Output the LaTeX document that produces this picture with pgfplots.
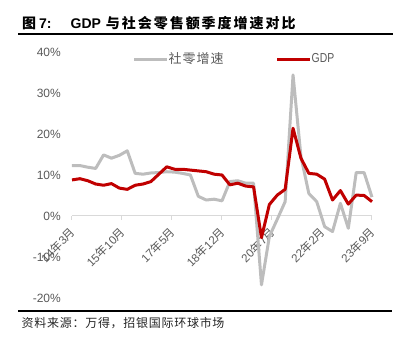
\documentclass[border=0pt]{standalone}
\usepackage{pgfplots}
\pgfplotsset{compat=1.18}
\usepackage{fontspec}
\setmainfont{Liberation Sans}
\newfontfamily\cjk{Noto Sans CJK SC}
\newfontfamily\cjkt{Noto Sans CJK SC}[LetterSpace=14]
\newfontfamily\cjkl{Noto Sans CJK SC}[LetterSpace=8]
\newfontfamily\cjks{Noto Sans CJK SC}[LetterSpace=6]
\definecolor{retail}{HTML}{BDBDBD}
\definecolor{gdp}{HTML}{C00000}
\definecolor{lab}{HTML}{595959}
\definecolor{zero}{HTML}{D9D9D9}
\begin{document}
\begin{tikzpicture}
\path[use as bounding box] (0,0) rectangle (407pt,353pt);
% title and rules
\node[anchor=west, inner sep=0pt] at (22pt,329.5pt) {\fontsize{14pt}{14pt}\selectfont\bfseries{\cjk 图}\hspace{3pt}7:\hspace{19pt}GDP\hspace{5pt}{\cjkt 与社会零售额季度增速对比}};
\draw[black, line width=2pt] (18pt,318.5pt) -- (393pt,318.5pt);
\draw[black, line width=2pt] (18pt,42pt) -- (392pt,42pt);
\node[anchor=west, inner sep=0pt, text=black!85] at (21.5pt,30pt) {\fontsize{12pt}{12pt}\selectfont\cjks 资料来源：万得，招银国际环球市场};
\begin{axis}[
  at={(72pt,55pt)}, anchor=south west,
  scale only axis, width=300pt, height=246pt,
  xmin=0, xmax=38, ymin=-20, ymax=40,
  clip=false,
  axis x line=middle, axis y line=left,
  hide obscured x ticks=false, hide obscured y ticks=false,
  x axis line style={-, draw=zero, line width=1pt},
  y axis line style={draw=none},
  ytick={-20,-10,0,10,20,30,40},
  yticklabels={-20\%,-10\%,0\%,10\%,20\%,30\%,40\%},
  ytick style={draw=none},
  yticklabel style={font=\fontsize{12pt}{12pt}\selectfont, text=lab, anchor=east, inner sep=0pt, xshift=-7pt},
  xtick={0,6.3333,12.6667,19,25.3333,31.6667,38},
  xticklabels={{14{\cjk 年}3{\cjk 月}},{15{\cjk 年}10{\cjk 月}},{17{\cjk 年}5{\cjk 月}},{18{\cjk 年}12{\cjk 月}},{20{\cjk 年}7{\cjk 月}},{22{\cjk 年}2{\cjk 月}},{23{\cjk 年}9{\cjk 月}}},
  tick align=outside, major tick length=4pt,
  xtick style={draw=zero, line width=1pt},
  xticklabel style={font=\fontsize{11.5pt}{11.5pt}\selectfont, text=lab, inner sep=0pt, yshift=-10pt, xshift=1pt, rotate=45, anchor=east},
  legend columns=2,
  legend style={draw=none, fill=none, at={(0.538,0.9715)}, anchor=center, inner sep=0pt,
    font=\fontsize{13pt}{13pt}\selectfont, text=lab,
    /tikz/every even column/.append style={column sep=52pt},
    nodes={inner sep=0pt, xshift=4pt}},
  legend image code/.code={\draw[#1, line width=3pt] (0pt,0pt) -- (33pt,0pt);},
]
\addplot[retail, line width=3pt, line join=round] coordinates {
(0,12.3)(1,12.3)(2,11.9)(3,11.6)(4,14.9)(5,14.1)(6,14.8)(7,15.9)(8,10.4)(9,10.2)
(10,10.5)(11,10.6)(12,10.8)(13,10.7)(14,10.4)(15,10.0)(16,4.8)(17,3.9)(18,4.1)(19,3.7)
(20,8.4)(21,8.6)(22,8.0)(23,8.0)(24,-16.8)(25,-5.0)(26,-0.8)(27,3.5)(28,34.4)(29,14.5)
(30,5.5)(31,3.5)(32,-2.6)(33,-3.8)(34,3.1)(35,-3.0)(36,10.6)(37,10.6)(38,4.6)};
\addlegendentry{{\cjkl 社零增速}}
\addplot[gdp, line width=3pt, line join=round] coordinates {
(0,8.8)(1,9.1)(2,8.6)(3,7.8)(4,7.5)(5,7.9)(6,6.8)(7,6.5)(8,7.5)(9,7.8)
(10,8.4)(11,10.2)(12,12.0)(13,11.4)(14,11.4)(15,11.2)(16,11.0)(17,10.8)(18,10.2)(19,10.0)
(20,7.6)(21,8.0)(22,7.3)(23,7.1)(24,-5.3)(25,2.8)(26,5.1)(27,6.5)(28,21.4)(29,14.1)
(30,10.4)(31,10.2)(32,9.0)(33,3.9)(34,6.2)(35,2.9)(36,5.1)(37,5.0)(38,3.5)};
\addlegendentry{\scalebox{0.8}[1]{GDP}}
\end{axis}
\end{tikzpicture}
\end{document}
